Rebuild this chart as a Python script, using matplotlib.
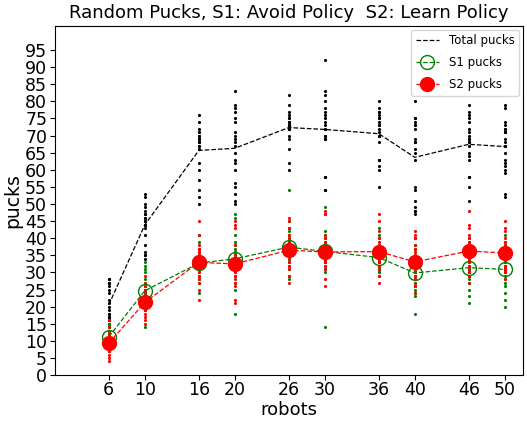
"""Puck collection results: Avoid policy (S1) vs Learn policy (S2)."""

import numpy as np
import matplotlib
matplotlib.use('Agg')
import matplotlib.pyplot as plt

# Robot counts used in the experiments
robots = [6, 10, 16, 20, 26, 30, 36, 40, 46, 50]

# Per-trial pucks collected in total (one list per robot count)
total_pucks = [
    [28, 28, 27, 27, 26, 25, 24, 22, 21, 20, 19, 18, 18, 17, 17, 16, 16, 15, 14, 13],
    [53, 52, 50, 49, 48, 47, 47, 46, 46, 45, 45, 44, 44, 43, 41, 38, 36, 35, 35, 34],
    [76, 74, 72, 71, 71, 70, 70, 69, 69, 68, 68, 67, 67, 66, 62, 60, 57, 54, 52, 50],
    [83, 79, 78, 77, 75, 74, 71, 70, 69, 68, 67, 65, 62, 63, 60, 56, 55, 53, 51, 50],
    [82, 79, 77, 76, 75, 75, 74, 74, 73, 73, 73, 72, 72, 72, 73, 70, 69, 66, 62, 60],
    [92, 83, 82, 80, 78, 77, 76, 75, 74, 73, 72, 72, 70, 70, 69, 69, 58, 58, 54, 54],
    [80, 78, 77, 77, 76, 75, 75, 74, 73, 73, 72, 71, 70, 70, 68, 63, 63, 61, 60, 55],
    [80, 75, 75, 74, 73, 73, 72, 69, 68, 68, 66, 65, 63, 55, 54, 51, 49, 48, 48, 47],
    [79, 77, 76, 75, 74, 72, 71, 70, 69, 69, 68, 68, 67, 65, 64, 63, 58, 58, 55, 51],
    [79, 78, 74, 73, 72, 71, 68, 67, 65, 63, 62, 61, 60, 59, 53, 52, 72, 71, 69, 67],
]

# Per-trial pucks collected by S1 robots (Avoid policy)
s1_pucks = [
    [16, 15, 14, 14, 13, 13, 12, 12, 12, 11, 11, 11, 10, 10, 10, 9, 9, 8, 7, 7],
    [33, 32, 31, 30, 28, 27, 26, 26, 25, 25, 24, 24, 23, 23, 22, 21, 20, 20, 19, 14],
    [41, 39, 37, 36, 35, 35, 34, 34, 33, 33, 33, 32, 32, 31, 31, 30, 29, 28, 27, 24],
    [47, 46, 41, 39, 38, 37, 36, 35, 35, 34, 34, 33, 33, 32, 31, 30, 29, 27, 25, 18],
    [54, 45, 43, 42, 41, 40, 39, 38, 38, 37, 37, 36, 36, 35, 34, 33, 32, 31, 29, 28],
    [49, 47, 42, 41, 40, 39, 38, 38, 37, 37, 36, 36, 35, 34, 34, 33, 32, 31, 30, 14],
    [43, 41, 40, 38, 37, 36, 35, 35, 34, 34, 33, 33, 33, 32, 32, 31, 31, 30, 30, 29],
    [40, 38, 37, 35, 34, 32, 31, 31, 30, 30, 30, 29, 29, 28, 27, 26, 25, 24, 23, 18],
    [40, 39, 38, 37, 36, 35, 34, 33, 32, 31, 31, 30, 30, 29, 29, 28, 27, 25, 23, 21],
    [41, 39, 38, 36, 35, 34, 33, 32, 32, 31, 31, 30, 30, 29, 28, 27, 26, 24, 22, 20],
]

# Per-trial pucks collected by S2 robots (Learn policy)
s2_pucks = [
    [16, 14, 13, 12, 11, 11, 10, 10, 10, 9, 9, 9, 8, 8, 8, 7, 7, 6, 5, 4],
    [29, 27, 26, 25, 24, 23, 22, 22, 21, 21, 21, 20, 20, 20, 19, 19, 18, 17, 16, 15],
    [45, 41, 38, 37, 37, 36, 35, 34, 34, 33, 33, 32, 32, 31, 30, 29, 28, 27, 25, 22],
    [45, 44, 43, 38, 36, 35, 34, 33, 33, 32, 32, 31, 31, 30, 29, 28, 27, 26, 22, 21],
    [46, 45, 43, 41, 40, 39, 38, 37, 37, 36, 36, 36, 35, 35, 34, 33, 32, 31, 29, 27],
    [48, 47, 41, 40, 39, 38, 37, 37, 36, 36, 35, 35, 34, 34, 33, 33, 32, 31, 28, 26],
    [47, 45, 42, 40, 39, 38, 37, 37, 36, 36, 35, 35, 35, 34, 34, 33, 32, 31, 29, 27],
    [42, 41, 40, 38, 37, 36, 35, 34, 34, 33, 33, 32, 32, 31, 30, 29, 28, 27, 26, 24],
    [48, 44, 43, 41, 40, 39, 38, 37, 37, 36, 36, 35, 35, 34, 33, 32, 31, 30, 29, 27],
    [45, 43, 42, 40, 39, 38, 37, 36, 36, 35, 35, 35, 34, 34, 33, 32, 31, 31, 30, 28],
]

fig = plt.figure(figsize=(5.27, 4.21), dpi=100)
ax = fig.add_axes([0.104, 0.109, 0.888, 0.829])

# Individual trials as small dots
for r, tot, a, b in zip(robots, total_pucks, s1_pucks, s2_pucks):
    ax.plot([r] * len(tot), tot, 'k.', markersize=2.5)
    ax.plot([r] * len(a), a, 'g.', markersize=2.5)
    ax.plot([r] * len(b), b, 'r.', markersize=2.5)

# Mean over trials
total_mean = [np.mean(v) for v in total_pucks]
s1_mean = [np.mean(v) for v in s1_pucks]
s2_mean = [np.mean(v) for v in s2_pucks]

ax.plot(robots, total_mean, 'k--', linewidth=0.9, label='Total pucks')
ax.plot(robots, s1_mean, 'g--', linewidth=0.9, marker='o', markersize=10,
        markerfacecolor='none', markeredgecolor='g', label='S1 pucks')
ax.plot(robots, s2_mean, 'r--', linewidth=0.9, marker='o', markersize=10,
        markerfacecolor='r', markeredgecolor='r', label='S2 pucks')

ax.set_xlim(0, 52)
ax.set_ylim(0, 102)
ax.set_xticks(robots)
ax.set_yticks(np.arange(0, 100, 5))
ax.tick_params(axis='both', labelsize=12.5)
ax.tick_params(axis='x', pad=1)
ax.tick_params(axis='y', pad=2)

ax.set_title('Random Pucks, S1: Avoid Policy  S2: Learn Policy', fontsize=13)
ax.set_xlabel('robots', fontsize=13, labelpad=1)
ax.set_ylabel('pucks', fontsize=13.5, labelpad=2)
ax.legend(loc='upper right', fontsize=8.5, labelspacing=0.75, borderaxespad=0.3)

fig.savefig('out.png', dpi=100)
